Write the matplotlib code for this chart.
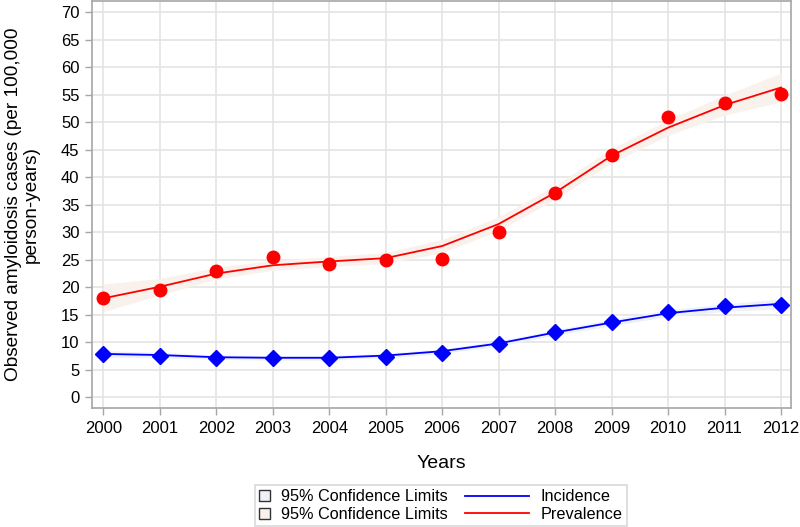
import matplotlib
matplotlib.use("Agg")
import matplotlib.pyplot as plt
from matplotlib.patches import Patch, Rectangle
from matplotlib.lines import Line2D
from matplotlib.legend_handler import HandlerBase
import numpy as np

plt.rcParams["font.family"] = ["Liberation Sans", "DejaVu Sans"]

# =========================
# Data
# =========================
years = np.arange(2000, 2013)

prev_obs = [18.0, 19.6, 23.0, 25.5, 24.3, 24.9, 25.2, 30.1, 37.1, 44.1, 51.0, 53.4, 55.2]
prev_fit = [18.0, 20.1, 22.5, 24.0, 24.7, 25.3, 27.5, 31.5, 37.2, 43.9, 49.0, 53.1, 56.3]
prev_lo = [15.6, 18.6, 21.5, 23.1, 23.8, 24.3, 26.3, 30.3, 36.0, 42.6, 47.6, 51.3, 53.7]
prev_hi = [20.6, 21.6, 23.6, 24.9, 25.6, 26.3, 28.7, 32.8, 38.5, 45.2, 50.4, 54.9, 58.9]

inc_obs = [7.8, 7.6, 7.1, 7.1, 7.1, 7.4, 8.1, 9.7, 11.9, 13.7, 15.5, 16.6, 16.7]
inc_fit = [7.9, 7.7, 7.3, 7.2, 7.2, 7.6, 8.4, 9.8, 11.8, 13.6, 15.3, 16.3, 17.0]
inc_lo = [7.3, 7.2, 6.9, 6.8, 6.8, 7.2, 8.0, 9.3, 11.3, 13.0, 14.7, 15.6, 16.1]
inc_hi = [8.5, 8.2, 7.7, 7.6, 7.6, 8.0, 8.8, 10.3, 12.3, 14.2, 15.9, 17.0, 17.9]

y_ticks = np.arange(0, 75, 5)

# =========================
# Style
# =========================
band_prev = "#f9f1ec"
band_inc = "#eef2f8"
grid_col = "#e4e4e4"
spine_col = "#a6a6a6"


# small square at the left of the handle box
class SquareHandler(HandlerBase):
    def create_artists(self, legend, orig_handle, xdescent, ydescent,
                       width, height, fontsize, trans):
        s = 8.0
        r = Rectangle((-xdescent, -ydescent + height / 2 - s / 2), s, s,
                      facecolor=orig_handle.get_facecolor(),
                      edgecolor="#333333", lw=1.0, transform=trans)
        return [r]


# long line that reaches back into the column gap
class LongLineHandler(HandlerBase):
    def create_artists(self, legend, orig_handle, xdescent, ydescent,
                       width, height, fontsize, trans):
        y = -ydescent + height / 2
        ln = Line2D([width - 48, width - 2], [y, y],
                    color=orig_handle.get_color(), lw=1.3, transform=trans)
        return [ln]


fig = plt.figure(figsize=(8.0, 5.27), dpi=100)
ax = fig.add_axes([0.115, 0.225, 0.874, 0.773])

ax.fill_between(years, prev_lo, prev_hi, color=band_prev, lw=0, zorder=1)
ax.fill_between(years, inc_lo, inc_hi, color=band_inc, lw=0, zorder=1)

ax.plot(years, inc_fit, color="#0000ff", lw=1.3, zorder=3)
ax.plot(years, prev_fit, color="#ff0000", lw=1.3, zorder=3)
ax.plot(years, inc_obs, ls="none", marker="D", ms=8, color="#0000ff", zorder=4)
ax.plot(years, prev_obs, ls="none", marker="o", ms=9, color="#ff0000", zorder=4)

ax.set_xlim(1999.8, 2012.18)
ax.set_ylim(-2, 72)
ax.set_xticks(years)
ax.set_yticks(y_ticks)
ax.tick_params(labelsize=12, color=spine_col, length=5, width=1, pad=4)
ax.grid(True, color=grid_col, lw=1.2, zorder=0)
ax.set_axisbelow(True)
for s in ax.spines.values():
    s.set_color(spine_col)
    s.set_linewidth(1.2)

ax.set_xlabel("Years", fontsize=14, labelpad=14)
ax.set_ylabel("Observed amyloidosis cases (per 100,000\nperson-years)",
              fontsize=13.7, labelpad=15, linespacing=1.05)

handles = [
    Patch(facecolor=band_inc),
    Patch(facecolor=band_prev),
    Line2D([], [], color="#0000ff"),
    Line2D([], [], color="#ff0000"),
]
labels = ["95% Confidence Limits", "95% Confidence Limits", "Incidence", "Prevalence"]
leg = fig.legend(handles, labels, ncol=2, loc="lower center",
                 bbox_to_anchor=(0.551, -0.0135), fontsize=11.7, frameon=True,
                 fancybox=False, edgecolor="#cfcfcf", handlelength=0.85,
                 columnspacing=4.3, borderpad=0.25, labelspacing=0.15,
                 handletextpad=0.55,
                 handler_map={Patch: SquareHandler(), Line2D: LongLineHandler()})
leg.get_frame().set_linewidth(1.2)

fig.savefig("out.png", dpi=100)
